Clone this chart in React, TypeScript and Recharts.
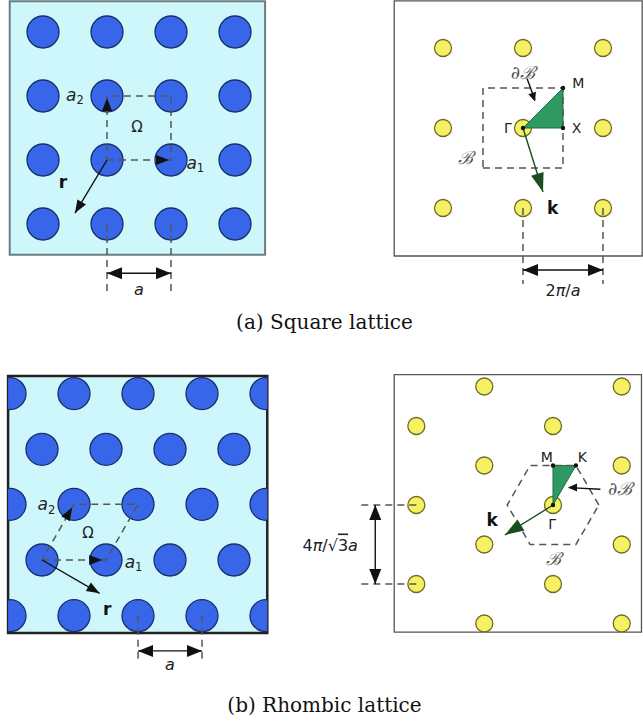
import React from "react";
import {
  ScatterChart,
  Scatter,
  XAxis,
  YAxis,
  ReferenceArea,
  ReferenceLine,
  ReferenceDot,
} from "recharts";

type Pt = { x: number; y: number };
type Seg = { x1: number; y1: number; x2: number; y2: number; kind?: string };
type Head = { x: number; y: number; dx: number; dy: number; kind: string };
type Lbl = { x: number; y: number; text: string; sub?: string; kind: string };

// ---------- (a) square lattice, real space (units of a)
const sqSites: Pt[] = [
  { x: -1, y: 2 }, { x: 0, y: 2 }, { x: 1, y: 2 }, { x: 2, y: 2 },
  { x: -1, y: 1 }, { x: 0, y: 1 }, { x: 1, y: 1 }, { x: 2, y: 1 },
  { x: -1, y: 0 }, { x: 0, y: 0 }, { x: 1, y: 0 }, { x: 2, y: 0 },
  { x: -1, y: -1 }, { x: 0, y: -1 }, { x: 1, y: -1 }, { x: 2, y: -1 },
];
const sqCell: Pt[] = [
  { x: 0, y: 0 }, { x: 1, y: 0 }, { x: 1, y: 1 }, { x: 0, y: 1 }, { x: 0, y: 0 },
];
const sqGuides: Seg[] = [
  { x1: 0, y1: -1, x2: 0, y2: -2.05 },
  { x1: 1, y1: -1, x2: 1, y2: -2.05 },
];
const sqShafts: Seg[] = [
  { x1: 0, y1: 0, x2: -0.5, y2: -0.83 },
  { x1: 0, y1: -1.77, x2: 1, y2: -1.77 },
];
const sqHeads: Head[] = [
  { x: 0.97, y: 0, dx: 1, dy: 0, kind: "vec" },
  { x: 0, y: 0.97, dx: 0, dy: 1, kind: "vec" },
  { x: -0.5, y: -0.83, dx: -0.5, dy: -0.83, kind: "vec" },
  { x: 0, y: -1.77, dx: -1, dy: 0, kind: "dim" },
  { x: 1, y: -1.77, dx: 1, dy: 0, kind: "dim" },
];
const sqLabels: Lbl[] = [
  { x: -0.5, y: 1.02, text: "a", sub: "2", kind: "vec" },
  { x: 0.47, y: 0.52, text: "Ω", kind: "sym" },
  { x: 1.38, y: -0.04, text: "a", sub: "1", kind: "vec" },
  { x: -0.69, y: -0.34, text: "r", kind: "bold" },
  { x: 0.5, y: -2.02, text: "a", kind: "dim" },
];

// ---------- (a) square lattice, reciprocal space (units of 2π/a)
const sqRecSites: Pt[] = [
  { x: -1, y: 1 }, { x: 0, y: 1 }, { x: 1, y: 1 },
  { x: -1, y: 0 }, { x: 0, y: 0 }, { x: 1, y: 0 },
  { x: -1, y: -1 }, { x: 0, y: -1 }, { x: 1, y: -1 },
];
const sqZone: Pt[] = [
  { x: -0.5, y: -0.5 }, { x: 0.5, y: -0.5 }, { x: 0.5, y: 0.5 },
  { x: -0.5, y: 0.5 }, { x: -0.5, y: -0.5 },
];
const sqWedge: Pt[] = [
  { x: 0, y: 0 }, { x: 0.5, y: 0 }, { x: 0.5, y: 0.5 }, { x: 0, y: 0 },
];
const sqCorners: Pt[] = [{ x: 0, y: 0 }, { x: 0.5, y: 0 }, { x: 0.5, y: 0.5 }];
const sqRecGuides: Seg[] = [
  { x1: 0, y1: -1, x2: 0, y2: -1.95 },
  { x1: 1, y1: -1, x2: 1, y2: -1.95 },
];
const sqRecShafts: Seg[] = [
  { x1: 0, y1: 0, x2: 0.25, y2: -0.8, kind: "k" },
  { x1: 0.05, y1: 0.62, x2: 0.15, y2: 0.35 },
  { x1: 0, y1: -1.775, x2: 1, y2: -1.775 },
];
const sqRecHeads: Head[] = [
  { x: 0.25, y: -0.8, dx: 0.25, dy: -0.8, kind: "k" },
  { x: 0.15, y: 0.33, dx: 0.3, dy: -0.9, kind: "hint" },
  { x: 0, y: -1.775, dx: -1, dy: 0, kind: "dim" },
  { x: 1, y: -1.775, dx: 1, dy: 0, kind: "dim" },
];
const sqRecLabels: Lbl[] = [
  { x: 0.69, y: 0.56, text: "M", kind: "pt" },
  { x: 0.67, y: 0, text: "X", kind: "pt" },
  { x: -0.19, y: 0, text: "Γ", kind: "pt" },
  { x: 0, y: 0.7, text: "∂ℬ", kind: "cal" },
  { x: -0.72, y: -0.36, text: "ℬ", kind: "cal" },
  { x: 0.37, y: -1.0, text: "k", kind: "bold" },
  { x: 0.5, y: -2.02, text: "2π/a", kind: "dim" },
];

// ---------- (b) rhombic lattice, real space (units of a)
const rhSites: Pt[] = [
  { x: -0.5, y: 2.6 }, { x: 0.5, y: 2.6 }, { x: 1.5, y: 2.6 }, { x: 2.5, y: 2.6 }, { x: 3.5, y: 2.6 },
  { x: 0, y: 1.73 }, { x: 1, y: 1.73 }, { x: 2, y: 1.73 }, { x: 3, y: 1.73 },
  { x: -0.5, y: 0.87 }, { x: 0.5, y: 0.87 }, { x: 1.5, y: 0.87 }, { x: 2.5, y: 0.87 }, { x: 3.5, y: 0.87 },
  { x: 0, y: 0 }, { x: 1, y: 0 }, { x: 2, y: 0 }, { x: 3, y: 0 },
  { x: -0.5, y: -0.87 }, { x: 0.5, y: -0.87 }, { x: 1.5, y: -0.87 }, { x: 2.5, y: -0.87 }, { x: 3.5, y: -0.87 },
];
const rhCell: Pt[] = [
  { x: 0, y: 0 }, { x: 1, y: 0 }, { x: 1.5, y: 0.87 }, { x: 0.5, y: 0.87 }, { x: 0, y: 0 },
];
const rhGuides: Seg[] = [
  { x1: 1.5, y1: -0.87, x2: 1.5, y2: -1.58 },
  { x1: 2.5, y1: -0.87, x2: 2.5, y2: -1.58 },
];
const rhShafts: Seg[] = [
  { x1: 0, y1: 0, x2: 0.9, y2: -0.52 },
  { x1: 1.5, y1: -1.42, x2: 2.5, y2: -1.42 },
];
const rhHeads: Head[] = [
  { x: 0.94, y: 0, dx: 1, dy: 0, kind: "vec" },
  { x: 0.47, y: 0.82, dx: 0.5, dy: 0.87, kind: "vec" },
  { x: 0.9, y: -0.52, dx: 0.9, dy: -0.52, kind: "vec" },
  { x: 1.5, y: -1.42, dx: -1, dy: 0, kind: "dim" },
  { x: 2.5, y: -1.42, dx: 1, dy: 0, kind: "dim" },
];
const rhLabels: Lbl[] = [
  { x: 0.07, y: 0.87, text: "a", sub: "2", kind: "vec" },
  { x: 0.72, y: 0.42, text: "Ω", kind: "sym" },
  { x: 1.43, y: -0.03, text: "a", sub: "1", kind: "vec" },
  { x: 1.02, y: -0.76, text: "r", kind: "bold" },
  { x: 2.0, y: -1.62, text: "a", kind: "dim" },
];

// ---------- (b) rhombic lattice, reciprocal space (units of 4π/√3a)
const rhRecSites: Pt[] = [
  { x: -1.73, y: -1 }, { x: -1.73, y: 0 }, { x: -1.73, y: 1 },
  { x: -0.87, y: -1.5 }, { x: -0.87, y: -0.5 }, { x: -0.87, y: 0.5 }, { x: -0.87, y: 1.5 },
  { x: 0, y: -1 }, { x: 0, y: 0 }, { x: 0, y: 1 },
  { x: 0.87, y: -1.5 }, { x: 0.87, y: -0.5 }, { x: 0.87, y: 0.5 }, { x: 0.87, y: 1.5 },
];
const rhZone: Pt[] = [
  { x: 0.58, y: 0 }, { x: 0.29, y: 0.5 }, { x: -0.29, y: 0.5 }, { x: -0.58, y: 0 },
  { x: -0.29, y: -0.5 }, { x: 0.29, y: -0.5 }, { x: 0.58, y: 0 },
];
const rhWedge: Pt[] = [
  { x: 0, y: 0 }, { x: 0, y: 0.5 }, { x: 0.29, y: 0.5 }, { x: 0, y: 0 },
];
const rhCorners: Pt[] = [{ x: 0, y: 0 }, { x: 0, y: 0.5 }, { x: 0.29, y: 0.5 }];
const rhRecGuides: Seg[] = [
  { x1: -1.73, y1: 0, x2: -2.47, y2: 0 },
  { x1: -1.73, y1: -1, x2: -2.47, y2: -1 },
];
const rhRecShafts: Seg[] = [
  { x1: 0, y1: 0, x2: -0.61, y2: -0.38, kind: "k" },
  { x1: 0.6, y1: 0.2, x2: 0.2, y2: 0.22 },
  { x1: -2.25, y1: 0, x2: -2.25, y2: -1 },
];
const rhRecHeads: Head[] = [
  { x: -0.61, y: -0.38, dx: -0.61, dy: -0.38, kind: "k" },
  { x: 0.19, y: 0.22, dx: -1, dy: 0, kind: "hint" },
  { x: -2.25, y: 0, dx: 0, dy: 1, kind: "dim" },
  { x: -2.25, y: -1, dx: 0, dy: -1, kind: "dim" },
];
const rhRecLabels: Lbl[] = [
  { x: -0.08, y: 0.61, text: "M", kind: "pt" },
  { x: 0.37, y: 0.61, text: "K", kind: "pt" },
  { x: -0.01, y: -0.24, text: "Γ", kind: "pt" },
  { x: 0.85, y: 0.22, text: "∂ℬ", kind: "cal" },
  { x: 0, y: -0.67, text: "ℬ", kind: "cal" },
  { x: -0.77, y: -0.19, text: "k", kind: "bold" },
  { x: -2.82, y: -0.5, text: "4π/√3a", kind: "dim" },
];

const captions = ["(a) Square lattice", "(b) Rhombic lattice"];

// ---------- styles
const headStyle: Record<string, { len: number; half: number; fill: string }> = {
  vec: { len: 13, half: 5, fill: "#111" },
  dim: { len: 15, half: 6, fill: "#111" },
  k: { len: 19, half: 6.5, fill: "#1b4d22" },
  hint: { len: 9, half: 4, fill: "#111" },
};

const labelStyle: Record<
  string,
  { family: string; size: number; weight?: string; color: string; italic?: boolean; math?: boolean }
> = {
  vec: { family: "DejaVu Sans", size: 17, color: "#222", math: true },
  sym: { family: "DejaVu Sans", size: 15, color: "#222" },
  bold: { family: "DejaVu Sans", size: 17, weight: "bold", color: "#111" },
  pt: { family: "DejaVu Sans", size: 14, color: "#222" },
  cal: { family: "DejaVu Serif", size: 18, color: "#555", italic: true },
  dim: { family: "DejaVu Sans", size: 16, color: "#222", math: true },
};

const arrowHead = (h: Head) => (p: any) => {
  const st = headStyle[h.kind];
  const ang = Math.atan2(-h.dy, h.dx);
  const c = Math.cos(ang);
  const s = Math.sin(ang);
  const bx = p.cx - st.len * c;
  const by = p.cy - st.len * s;
  const pts = [
    [p.cx, p.cy],
    [bx - st.half * s, by + st.half * c],
    [bx + st.half * s, by - st.half * c],
  ];
  return <polygon points={pts.map((q) => q.join(",")).join(" ")} fill={st.fill} />;
};

const textShape = (l: Lbl) => (p: any) => {
  const st = labelStyle[l.kind];
  const chars = Array.from(l.text);
  return (
    <text
      x={p.cx}
      y={p.cy}
      textAnchor="middle"
      dominantBaseline="central"
      fontFamily={st.family}
      fontSize={st.size}
      fontWeight={st.weight || "normal"}
      fill={st.color}
    >
      {chars.map((ch, i) => (
        <tspan
          key={i}
          fontStyle={st.italic || (st.math && "aπ".includes(ch)) ? "italic" : "normal"}
          textDecoration={i > 0 && chars[i - 1] === "√" ? "overline" : undefined}
        >
          {ch}
        </tspan>
      ))}
      {l.sub ? (
        <tspan fontSize={st.size * 0.68} dy={st.size * 0.32} fontStyle="normal">
          {l.sub}
        </tspan>
      ) : null}
    </text>
  );
};

type PanelSpec = {
  left: number;
  top: number;
  width: number;
  height: number;
  ox: number;
  oy: number;
  s: number;
  box: [number, number, number, number];
  bg: string;
  border: string;
  borderWidth: number;
  sites: Pt[];
  r: number;
  siteFill: string;
  siteStroke: string;
  cell: Pt[];
  wedge?: Pt[];
  corners?: Pt[];
  guides: Seg[];
  shafts: Seg[];
  heads: Head[];
  labels: Lbl[];
};

const Panel = ({ spec }: { spec: PanelSpec }) => {
  const { left, top, width, height, ox, oy, s, box } = spec;
  const [u0, u1, v0, v1] = box;
  const margin = {
    left: ox + u0 * s - left,
    right: left + width - (ox + u1 * s),
    top: oy - v1 * s - top,
    bottom: top + height - (oy - v0 * s),
  };
  const none = () => <g />;
  return (
    <div style={{ position: "absolute", left, top }}>
      <ScatterChart width={width} height={height} margin={margin}>
        <XAxis type="number" dataKey="x" domain={[u0, u1]} allowDataOverflow hide />
        <YAxis type="number" dataKey="y" domain={[v0, v1]} allowDataOverflow hide />
        <ReferenceArea
          x1={u0}
          x2={u1}
          y1={v0}
          y2={v1}
          fill={spec.bg}
          fillOpacity={1}
          stroke={spec.border}
          strokeWidth={spec.borderWidth}
        />
        <Scatter
          data={spec.sites}
          isAnimationActive={false}
          shape={(p: any) => (
            <circle
              cx={p.cx}
              cy={p.cy}
              r={spec.r}
              fill={spec.siteFill}
              stroke={spec.siteStroke}
              strokeWidth={1.3}
            />
          )}
        />
        {spec.wedge ? (
          <Scatter
            data={spec.wedge}
            isAnimationActive={false}
            shape={none}
            line={{ fill: "#2f9963", stroke: "#1f6b40", strokeWidth: 1 }}
          />
        ) : null}
        <Scatter
          data={spec.cell}
          isAnimationActive={false}
          shape={none}
          line={{ stroke: "#555", strokeWidth: 1.5, strokeDasharray: "7 5", fill: "none" }}
        />
        {spec.guides.map((g, i) => (
          <ReferenceLine
            key={"g" + i}
            segment={[{ x: g.x1, y: g.y1 }, { x: g.x2, y: g.y2 }]}
            stroke="#555"
            strokeWidth={1.5}
            strokeDasharray="7 5"
            ifOverflow="visible"
            zIndex={800}
          />
        ))}
        {spec.shafts.map((g, i) => (
          <ReferenceLine
            key={"s" + i}
            segment={[{ x: g.x1, y: g.y1 }, { x: g.x2, y: g.y2 }]}
            stroke={g.kind === "k" ? "#1b4d22" : "#111"}
            strokeWidth={1.4}
            ifOverflow="visible"
            zIndex={800}
          />
        ))}
        {(spec.corners || []).map((c, i) => (
          <ReferenceDot
            key={"c" + i}
            x={c.x}
            y={c.y}
            r={2.2}
            fill="#111"
            stroke="none"
            ifOverflow="visible"
            zIndex={810}
          />
        ))}
        {spec.heads.map((h, i) => (
          <ReferenceDot
            key={"h" + i}
            x={h.x}
            y={h.y}
            r={1}
            ifOverflow="visible"
            shape={arrowHead(h)}
            zIndex={820}
          />
        ))}
        {spec.labels.map((l, i) => (
          <ReferenceDot
            key={"l" + i}
            x={l.x}
            y={l.y}
            r={1}
            ifOverflow="visible"
            shape={textShape(l)}
            zIndex={830}
          />
        ))}
      </ScatterChart>
    </div>
  );
};

const blue = { siteFill: "#3766e8", siteStroke: "#1d2c66", r: 16 };
const yellow = { siteFill: "#f5f163", siteStroke: "#6f6a28", r: 8.5 };

const panels: PanelSpec[] = [
  {
    left: 0, top: 0, width: 300, height: 300, ox: 107, oy: 160, s: 64,
    box: [-1.52, 2.47, -1.48, 2.48], bg: "#cdf7fb", border: "#6d7d80", borderWidth: 2,
    ...blue, sites: sqSites, cell: sqCell, guides: sqGuides, shafts: sqShafts,
    heads: sqHeads, labels: sqLabels,
  },
  {
    left: 380, top: 0, width: 263, height: 300, ox: 523, oy: 128, s: 80,
    box: [-1.61, 1.49, -1.6, 1.59], bg: "#ffffff", border: "#555", borderWidth: 1.3,
    ...yellow, sites: sqRecSites, cell: sqZone, wedge: sqWedge, corners: sqCorners,
    guides: sqRecGuides, shafts: sqRecShafts, heads: sqRecHeads, labels: sqRecLabels,
  },
  {
    left: 0, top: 360, width: 290, height: 330, ox: 42, oy: 560, s: 64,
    box: [-0.53, 3.52, -1.14, 2.875], bg: "#cdf7fb", border: "#222", borderWidth: 2.5,
    ...blue, sites: rhSites, cell: rhCell, guides: rhGuides, shafts: rhShafts,
    heads: rhHeads, labels: rhLabels,
  },
  {
    left: 280, top: 360, width: 363, height: 330, ox: 553, oy: 505, s: 79,
    box: [-2.01, 1.12, -1.61, 1.65], bg: "#ffffff", border: "#555", borderWidth: 1.3,
    ...yellow, sites: rhRecSites, cell: rhZone, wedge: rhWedge, corners: rhCorners,
    guides: rhRecGuides, shafts: rhRecShafts, heads: rhRecHeads, labels: rhRecLabels,
  },
];

const App = () => {
  return (
    <div
      style={{
        position: "absolute",
        left: 0,
        top: 0,
        width: 643,
        height: 724,
        background: "#fff",
        overflow: "hidden",
      }}
    >
      {panels.map((p, i) => (
        <Panel key={i} spec={p} />
      ))}
      {captions.map((c, i) => (
        <div
          key={c}
          style={{
            position: "absolute",
            left: 3,
            width: 643,
            top: i === 0 ? 309 : 692,
            textAlign: "center",
            fontFamily: "DejaVu Serif",
            fontSize: 20,
            lineHeight: "26px",
            color: "#111",
          }}
        >
          {c}
        </div>
      ))}
    </div>
  );
};

export default App;
